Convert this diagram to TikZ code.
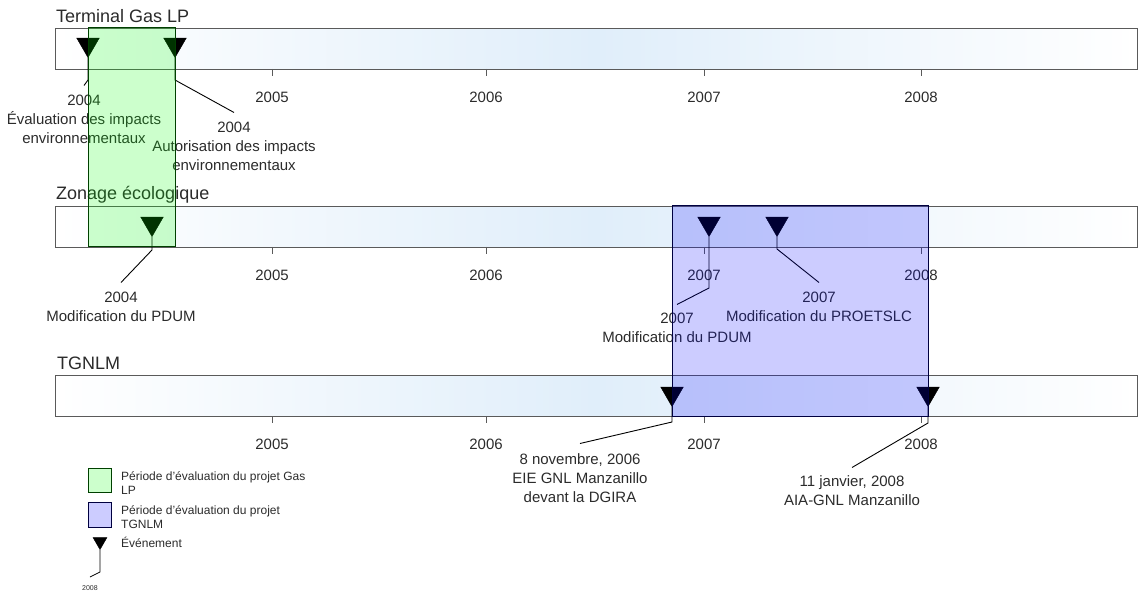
\documentclass[tikz,border=0pt]{standalone}
\usepackage{fontspec}
\setmainfont{Liberation Sans}
\usetikzlibrary{shapes.geometric}

\definecolor{barblue}{HTML}{E0EEFA}
\definecolor{barline}{HTML}{5A5A5A}
\definecolor{txt}{HTML}{2B2B2B}

\tikzset{
    bar/.style={draw=barline, line width=1.2pt, left color=white, right color=white, middle color=barblue,
        minimum width=1082pt, minimum height=41pt, anchor=north west, inner sep=0pt},
    bartitle/.style={anchor=base west, inner sep=0pt, font=\fontsize{18}{21}\selectfont, text=txt},
    yearlabel/.style={inner sep=0pt, font=\fontsize{15}{19}\selectfont, text=txt},
    evlabel/.style={anchor=north, inner sep=0pt, align=center, font=\fontsize{15}{19}\selectfont, text=txt},
    event/.style={regular polygon, regular polygon sides=3, shape border rotate=180, fill=black, draw=black,
        minimum size=26pt, inner sep=0pt, anchor=south},
    evline/.style={draw=black, line width=0.9pt},
    yeartick/.style={draw=barline, line width=1pt},
    gasperiod/.style={draw=green!25!black, line width=1pt, fill=green, fill opacity=0.2},
    tgnperiod/.style={draw=blue!25!black, line width=1pt, fill=blue, fill opacity=0.2},
    legendtext/.style={anchor=north west, inner sep=0pt, align=left, font=\fontsize{12}{14}\selectfont, text=txt},
}

\begin{document}
\begin{tikzpicture}[x=1pt, y=-1pt]
    \useasboundingbox (0,0) rectangle (1139,593);

    % the three time lines
    \node[bar] (gasbar) at (55,28) {};
    \node[bar] (zonbar) at (55,206) {};
    \node[bar] (tgnbar) at (55,375) {};

    \node[bartitle] (gastitle) at (56,23) {Terminal Gas LP};
    \node[bartitle] (zontitle) at (56,200) {Zonage écologique};
    \node[bartitle] (tgntitle) at (57,369) {TGNLM};

    \foreach \bot in {69,247,416} {
        \foreach \yr/\x in {2005/272, 2006/486, 2007/704, 2008/921} {
            \draw[yeartick] (\x,\bot) -- ++(0,7);
            \node[yearlabel] (yr\yr-\bot) at (\x,\bot+28) {\yr};
        }
    }

    % events
    \node[event] (gasev1) at (88,58) {};
    \node[event] (gasev2) at (175,58) {};
    \node[event] (zonev1) at (152,237) {};
    \node[event] (zonev2) at (709,237) {};
    \node[event] (zonev3) at (777,237) {};
    \node[event] (tgnev1) at (672,407) {};
    \node[event] (tgnev2) at (928,407) {};

    \node[evlabel] (gaslab1) at (84,94.5) {2004\\Évaluation des impacts\\environnementaux};
    \node[evlabel] (gaslab2) at (234,121.5) {2004\\Autorisation des impacts\\environnementaux};
    \node[evlabel] (zonlab1) at (121,291.5) {2004\\Modification du PDUM};
    \node[evlabel] (zonlab2) at (677,312.5) {2007\\Modification du PDUM};
    \node[evlabel] (zonlab3) at (819,291.5) {2007\\Modification du PROETSLC};
    \node[evlabel] (tgnlab1) at (580,453.5) {8 novembre, 2006\\EIE GNL Manzanillo\\devant la DGIRA};
    \node[evlabel] (tgnlab2) at (852,475.5) {11 janvier, 2008\\AIA-GNL Manzanillo};

    \draw[evline] (gasev1.south) -- ++(0,22) -- ([yshift=9pt]gaslab1.north);
    \draw[evline] (gasev2.south) -- ++(0,22) -- ([yshift=9pt]gaslab2.north);
    \draw[evline] (zonev1.south) -- ++(0,13) -- ([yshift=9pt]zonlab1.north);
    \draw[evline] (zonev2.south) -- ++(0,51) -- ([yshift=8pt]zonlab2.north);
    \draw[evline] (zonev3.south) -- ++(0,12) -- ([yshift=9pt]zonlab3.north);
    \draw[evline] (tgnev1.south) -- ++(0,15) -- ([yshift=10pt]tgnlab1.north);
    \draw[evline] (tgnev2.south) -- ++(0,16) -- ([yshift=8pt]tgnlab2.north);

    % legend
    \draw[gasperiod] (88,468) rectangle (111,492);
    \draw[tgnperiod] (88,502) rectangle (111,527);
    \node[legendtext] (leggas) at (121,471) {Période d’évaluation du projet Gas\\LP};
    \node[legendtext] (legtgn) at (121,505) {Période d’évaluation du projet\\TGNLM};
    \node[legendtext] (legev) at (121,536.5) {Événement};
    \node[event, minimum size=16pt] (legevsym) at (100,550) {};
    \node[evlabel, font=\fontsize{7}{8}\selectfont] (legevlab) at (90,585.5) {2008};
    \draw[evline, line width=0.7pt] (legevsym.south) -- ++(0,22) -- ([yshift=8.5pt]legevlab.north);

    % evaluation periods on top
    \draw[gasperiod] (88,28) rectangle (175,247);
    \draw[tgnperiod] (672,206) rectangle (928,416);
\end{tikzpicture}
\end{document}
